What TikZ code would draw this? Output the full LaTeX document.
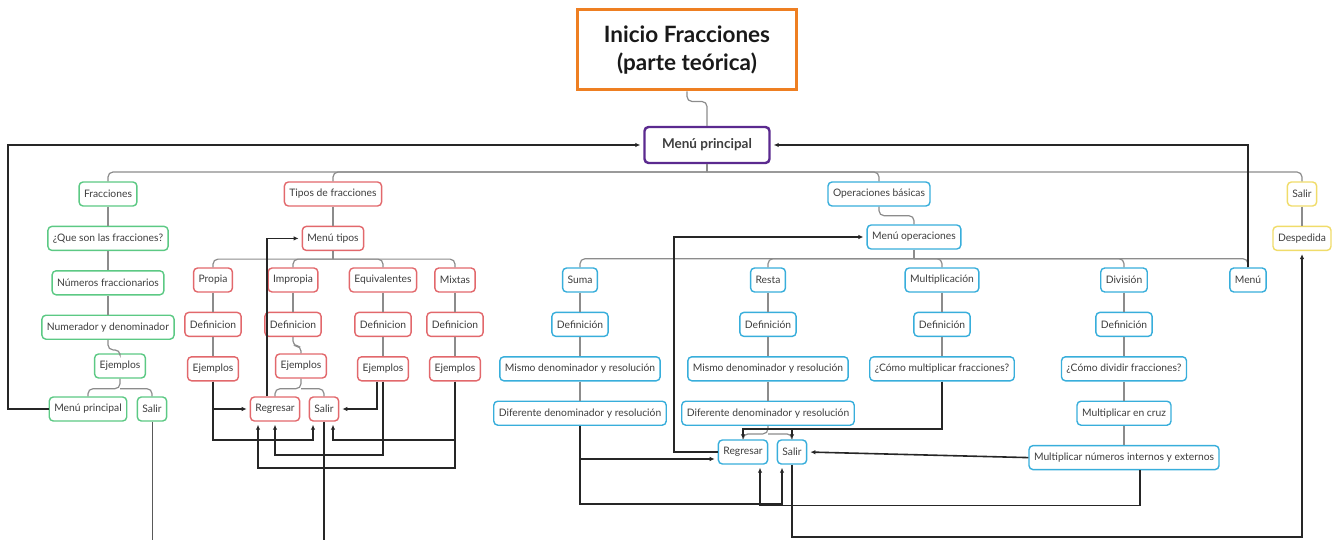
\documentclass[tikz,border=0pt]{standalone}
\usepackage{fontspec}
\setmainfont{Lato}
\usetikzlibrary{arrows.meta,positioning}

\definecolor{frgreen}{HTML}{5CC984}
\definecolor{tired}{HTML}{E2686C}
\definecolor{opblue}{HTML}{38AEDB}
\definecolor{exyellow}{HTML}{F0DC6A}
\definecolor{mppurple}{HTML}{5B2A8F}
\definecolor{tiorange}{HTML}{EE7F22}
\definecolor{treegray}{HTML}{8C8C8C}
\definecolor{boxtext}{HTML}{3E3E3E}

\begin{document}
\begin{tikzpicture}[
    x=1pt, y=-1pt,
    node distance=19pt,
    box/.style={rectangle, rounded corners=4pt, draw, line width=1.4pt, fill=white, minimum height=24pt, inner xsep=5pt, inner ysep=2pt, font=\fontsize{10.3}{12}\selectfont, text=boxtext},
    fbox/.style={box, draw=frgreen},
    tbox/.style={box, draw=tired},
    obox/.style={box, draw=opblue},
    sbox/.style={box, draw=exyellow},
    tree/.style={draw=treegray, line width=1.2pt, rounded corners=5pt},
    arr/.style={-{Latex[length=5pt,width=4.5pt]}, line width=1.6pt, draw=black!85, shorten >=3pt},
    link/.style={line width=1.6pt, draw=black!85}
]
\useasboundingbox (0,0) rectangle (1338,540);

\node[draw=tiorange, line width=3pt, minimum width=219pt, minimum height=80pt, align=center, font=\fontsize{22.5}{28}\selectfont\bfseries, text=black!90] (title) at (687,50) {Inicio Fracciones\\(parte teórica)};
\node[box, draw=mppurple, line width=2.4pt, minimum width=125pt, minimum height=36pt, font=\fontsize{13.5}{15}\selectfont\bfseries] (mp) at (707,145) {Menú principal};

% fracciones
\node[fbox] (fra) at (108,194) {Fracciones};
\node[fbox, below=of fra] (fque) {¿Que son las fracciones?};
\node[fbox, below=of fque] (fnum) {Números fraccionarios};
\node[fbox, below=of fnum] (fden) {Numerador y denominador};
\node[fbox] (fej) at (120,366) {Ejemplos};
\node[fbox] (fmen) at (88,409) {Menú principal};
\node[fbox] (fsal) at (152,409) {Salir};

% tipos de fracciones
\node[tbox] (tip) at (333,194) {Tipos de fracciones};
\node[tbox, below=of tip] (mtip) {Menú tipos};
\node[tbox] (tpro) at (213,280) {Propia};
\node[tbox] (timp) at (293,280) {Impropia};
\node[tbox] (tequ) at (383,280) {Equivalentes};
\node[tbox] (tmix) at (455,280) {Mixtas};
\node[tbox, below=of tpro] (tdpro) {Definicion};
\node[tbox, below=of timp] (tdimp) {Definicion};
\node[tbox, below=of tequ] (tdequ) {Definicion};
\node[tbox, below=of tmix] (tdmix) {Definicion};
\node[tbox, below=of tdpro] (tepro) {Ejemplos};
\node[tbox] (teimp) at (301,366) {Ejemplos};
\node[tbox, below=of tdequ] (teequ) {Ejemplos};
\node[tbox, below=of tdmix] (temix) {Ejemplos};
\node[tbox] (treg) at (275,409) {Regresar};
\node[tbox] (tsal) at (324,409) {Salir};

% operaciones
\node[obox] (ope) at (879,194) {Operaciones básicas};
\node[obox] (mop) at (914,237) {Menú operaciones};
\node[obox] (osum) at (580,280) {Suma};
\node[obox, below=of osum] (osdef) {Definición};
\node[obox, below=of osdef] (osmis) {Mismo denominador y resolución};
\node[obox, below=of osmis] (osdif) {Diferente denominador y resolución};
\node[obox] (ores) at (768,280) {Resta};
\node[obox, below=of ores] (ordef) {Definición};
\node[obox, below=of ordef] (ormis) {Mismo denominador y resolución};
\node[obox, below=of ormis] (ordif) {Diferente denominador y resolución};
\node[obox] (omul) at (942,280) {Multiplicación};
\node[obox, below=of omul] (omdef) {Definición};
\node[obox, below=of omdef] (omcom) {¿Cómo multiplicar fracciones?};
\node[obox] (odiv) at (1124,280) {División};
\node[obox, below=of odiv] (oddef) {Definición};
\node[obox, below=of oddef] (odcom) {¿Cómo dividir fracciones?};
\node[obox, below=of odcom] (odcru) {Multiplicar en cruz};
\node[obox, below=of odcru] (odnum) {Multiplicar números internos y externos};
\node[obox] (omen) at (1248,280) {Menú};
\node[obox] (oreg) at (743,452) {Regresar};
\node[obox] (osal) at (792,452) {Salir};

% salir
\node[sbox] (sal) at (1302,194) {Salir};
\node[sbox, below=of sal] (desp) {Despedida};

% gray tree
\draw[tree] (title.south) -- ++(0,10) -| (mp.north);
\draw[tree] (mp.south) -- (mp.south |- 0,172) coordinate (mpbar);
\draw[tree] (mpbar) -| (fra.north);
\draw[tree] (mpbar) -| (tip.north);
\draw[tree] (mpbar) -| (ope.north);
\draw[tree] (mpbar) -| (sal.north);

\draw[tree] (fra) -- (fque) -- (fnum) -- (fden);
\draw[tree] (fden.south) -- ++(0,10) -| (fej.north);
\draw[tree] (fej.south) -- ++(0,10) coordinate (fejbar) -| (fmen.north);
\draw[tree] (fejbar) -| (fsal.north);

\draw[tree] (tip) -- (mtip);
\draw[tree] (mtip.south) -- ++(0,8) coordinate (mtbar);
\draw[tree] (mtbar) -| (tpro.north);
\draw[tree] (mtbar) -| (timp.north);
\draw[tree] (mtbar) -| (tequ.north);
\draw[tree] (mtbar) -| (tmix.north);
\draw[tree] (tpro) -- (tdpro) -- (tepro);
\draw[tree] (timp) -- (tdimp);
\draw[tree] (tdimp.south) -- ++(0,9) -| (teimp.north);
\draw[tree] (tequ) -- (tdequ) -- (teequ);
\draw[tree] (tmix) -- (tdmix) -- (temix);
\draw[tree] (teimp.south) -- ++(0,10) coordinate (teibar) -| (treg.north);
\draw[tree] (teibar) -| (tsal.north);

\draw[tree] (ope.south) -- ++(0,9) -| (mop.north);
\draw[tree] (mop.south) -- ++(0,9) coordinate (mobar);
\draw[tree] (mobar) -| (osum.north);
\draw[tree] (mobar) -| (ores.north);
\draw[tree] (mobar) -| (omul.north);
\draw[tree] (mobar) -| (odiv.north);
\draw[tree] (mobar) -| (omen.north);
\draw[tree] (osum) -- (osdef) -- (osmis) -- (osdif);
\draw[tree] (ores) -- (ordef) -- (ormis) -- (ordif);
\draw[tree] (omul) -- (omdef) -- (omcom);
\draw[tree] (odiv) -- (oddef) -- (odcom) -- (odcru) -- (odnum);
\draw[tree] (ordif.south) -- ++(0,8) coordinate (orbar) -| (oreg.north);
\draw[tree] (orbar) -| (osal.north);
\draw[tree] (sal) -- (desp);

% black links
\draw[arr] (fmen.west) -- (fmen.west -| 8,0) |- (mp.west);
\draw[arr] (omen.north) |- (mp.east);
\draw[line width=0.9pt, black!65] (fsal.south) -- (fsal.south |- 0,540);

\draw[arr] ([xshift=-8pt]treg.north) |- (mtip.west);
\draw[arr] (tepro.south) |- (treg.west);
\draw[arr] (tepro.south) -- (tepro.south |- 0,440) -| ([xshift=-11pt]tsal.south);
\draw[arr] ([xshift=-6pt]teequ.south) |- (tsal.east);
\draw[arr] (teequ.south) -- (teequ.south |- 0,455) -| (treg.south);
\draw[arr] (temix.south) -- (temix.south |- 0,440) -| ([xshift=9pt]tsal.south);
\draw[arr] (temix.south) -- (temix.south |- 0,468) -| ([xshift=-17pt]treg.south);
\draw[link] (tsal.south) -- (tsal.south |- 0,540);

\draw[arr] (oreg.west) -- (oreg.west -| 674,0) |- (mop.west);
\draw[arr] (osdif.south) |- ([yshift=-7pt]oreg.west);
\draw[arr] (osdif.south) -- (osdif.south |- 0,504) -| ([xshift=-10pt]osal.south);
\draw[arr] ([xshift=16pt]odnum.south) -- ++(0,35) -| ([xshift=17pt]oreg.south);
\draw[arr] (odnum.west) -- (osal.east);
\draw[arr] (osal.south) -- (osal.south |- 0,537) -| (desp.south);
\draw[arr, shorten >=0pt] (omcom.south) -- (omcom.south |- 0,429) -| (oreg.north);
\draw[arr, shorten >=0pt] (omcom.south) -- (omcom.south |- 0,429) -| (osal.north);

\end{tikzpicture}
\end{document}
